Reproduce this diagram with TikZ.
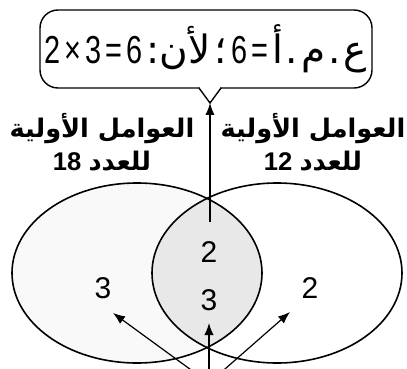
\documentclass[tikz,border=0pt]{standalone}
\usepackage{fontspec}
\setmainfont{Liberation Sans}
\newfontfamily\arabicfont[Script=Arabic]{DejaVu Sans}
\newfontfamily\narrowfont[FakeStretch=0.74]{Liberation Sans}
\TeXXeTstate=1
\usetikzlibrary{arrows.meta,shapes.geometric}

\begin{document}
\begin{tikzpicture}[
    x=0.5pt,
    y=-0.5pt,
    >={Latex[length=6pt,width=4.6pt]},
    set/.style={draw, ellipse, line width=0.8pt, minimum width=125pt, minimum height=90pt, inner sep=0pt},
    num/.style={font=\fontsize{15}{15}\selectfont, inner sep=1pt},
    setname/.style={align=center, inner sep=0pt, font=\bfseries\fontsize{12.8}{16.5}\selectfont},
    callbox/.style={draw, rounded corners=9pt, line width=0.7pt, minimum width=166pt, minimum height=39pt, inner sep=2pt, align=center, font=\narrowfont\fontsize{19.5}{20}\selectfont},
    line/.style={->, line width=0.6pt}
]
\clip (0,0) rectangle (407,369);
% shading of the sets
\fill[gray!5] (137,273) ellipse [x radius=62.5pt, y radius=45pt];
\begin{scope}
  \clip (137,273) ellipse [x radius=62.5pt, y radius=45pt];
  \fill[gray!18] (277,273) ellipse [x radius=62.5pt, y radius=45pt];
\end{scope}
\node[set] (set18) at (137,273) {};
\node[set] (set12) at (277,273) {};

\node[callbox] (gcf) at (206,49) {\beginR{\arabicfont ع}\kern1.5pt{\arabicfont .}\kern1.5pt{\arabicfont م}\kern1.5pt{\arabicfont .}\kern1.5pt{\arabicfont أ}\kern2pt=\kern2pt6\kern2pt{\arabicfont ؛}\kern2pt{\arabicfont لأن:}\kern2pt6\kern2pt=\kern2pt3\kern2pt×\kern2pt2\endR};
\coordinate (nl) at (199,88);
\coordinate (nr) at (221,88);
\coordinate (tip) at (210,103);
\fill[white] (200,86) rectangle (220,90);
\draw[line width=0.7pt] (nl) -- (tip) -- (nr);

\node[setname] (name18) at (102,142) {\beginR{\arabicfont العوامل الأولية}\endR\\\beginR{\arabicfont للعدد} \beginL18\endL\endR};
\node[setname] (name12) at (313,142) {\beginR{\arabicfont العوامل الأولية}\endR\\\beginR{\arabicfont للعدد} \beginL12\endL\endR};

\node[num] (lft3) at (103,288) {3};
\node[num] (mid2) at (209,252) {2};
\node[num] (mid3) at (209,300) {3};
\node[num] (rgt2) at (310,288) {2};

\coordinate (upstart) at (210,222);
\coordinate (src) at (209,383);
\coordinate (tipL) at (113,313);
\coordinate (tipM) at (209,323);
\coordinate (tipR) at (290,312);

\draw[line] (upstart) -- (tip);
\draw[line] (src) -- (tipL);
\draw[line] (src) -- (tipM);
\draw[line] (src) -- (tipR);
\end{tikzpicture}
\end{document}
